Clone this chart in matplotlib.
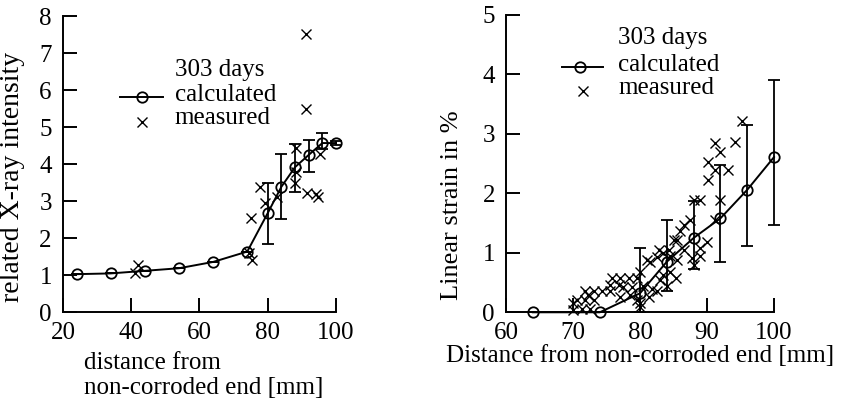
import matplotlib
matplotlib.use("Agg")
import matplotlib.pyplot as plt
from matplotlib.lines import Line2D

plt.rcParams['font.family'] = ['Liberation Serif', 'DejaVu Serif']
FS = 18

# ---------------- data: left panel ----------------
left_calc_x = [24, 34, 44, 54, 64, 74, 80, 84, 88, 92, 96, 100]
left_calc_y = [1.03, 1.05, 1.12, 1.19, 1.36, 1.64, 2.68, 3.39, 3.92, 4.25, 4.57, 4.57]
left_err_lo = [0, 0, 0, 0, 0, 0, 0.84, 0.87, 0.66, 0.45, 0.15, 0.06]
left_err_hi = [0, 0, 0, 0, 0, 0, 0.82, 0.89, 0.63, 0.41, 0.28, 0.06]
left_meas_x = [41.0, 42.0, 74.5, 75.3, 75.2, 77.8, 79.3, 82.6, 88.0, 88.2, 88.3,
               91.3, 91.3, 91.4, 94.2, 94.8, 95.3]
left_meas_y = [1.07, 1.27, 1.60, 1.42, 2.55, 3.38, 2.95, 3.10, 3.50, 3.78, 4.45,
               7.52, 5.50, 3.23, 3.20, 3.12, 4.28]
left_xticks = [20, 40, 60, 80, 100]
left_yticks = [0, 1, 2, 3, 4, 5, 6, 7, 8]

# ---------------- data: right panel ----------------
right_calc_x = [64, 74, 80, 84, 88, 92, 96, 100]
right_calc_y = [0, 0, 0.32, 0.85, 1.25, 1.58, 2.06, 2.61]
right_err_lo = [0, 0, 0.32, 0.49, 0.52, 0.73, 0.94, 1.14]
right_err_hi = [0, 0, 0.76, 0.70, 0.62, 0.89, 1.09, 1.30]
right_meas = [
    (70.0, 0.04), (70.0, 0.15), (71.3, 0.05), (72.6, 0.05), (70.6, 0.21), (71.8, 0.21),
    (73.1, 0.21), (71.8, 0.35), (73.1, 0.35), (74.3, 0.35), (75.5, 0.35), (72.3, 0.29),
    (75.5, 0.46), (76.8, 0.46), (75.8, 0.57), (77.0, 0.57), (78.3, 0.57), (79.5, 0.57),
    (77.5, 0.43), (78.8, 0.43), (78.5, 0.29), (77.0, 0.26), (79.5, 0.20), (80.5, 0.45),
    (80.0, 0.68), (80.0, 0.09), (80.0, 0.15), (81.3, 0.26), (81.8, 0.40), (81.5, 0.85),
    (82.5, 0.93), (82.5, 0.35), (82.8, 1.05), (84.3, 1.05), (83.5, 0.63), (84.5, 0.68),
    (85.3, 0.57), (85.5, 1.22), (81.0, 0.88), (83.5, 1.00), (84.5, 0.94), (85.5, 0.88),
    (86.5, 1.05), (85.0, 1.22), (86.0, 1.36), (86.5, 1.47), (87.5, 1.55), (88.0, 1.89),
    (89.0, 1.89), (87.7, 0.91), (88.0, 0.80), (89.0, 0.94), (89.0, 1.08), (90.0, 1.19),
    (90.2, 2.22), (90.2, 2.53), (91.2, 2.39), (91.2, 2.84), (92.0, 2.70), (93.2, 2.39),
    (92.0, 1.89), (91.2, 1.55), (94.2, 2.87), (95.2, 3.21), (84.0, 0.45), (83.0, 0.55),
]
right_meas_x = [p[0] for p in right_meas]
right_meas_y = [p[1] for p in right_meas]
right_xticks = [60, 70, 80, 90, 100]
right_yticks = [0, 1, 2, 3, 4, 5]

fig = plt.figure(figsize=(8.5, 4.01), dpi=100)
axL = fig.add_axes([0.0741, 0.2212, 0.3212, 0.7388])
axR = fig.add_axes([0.5953, 0.2212, 0.3153, 0.7414])

LW = 1.4
for ax in (axL, axR):
    ax.spines['top'].set_visible(False)
    ax.spines['right'].set_visible(False)
    for s in ('left', 'bottom'):
        ax.spines[s].set_linewidth(LW)
    ax.tick_params(direction='in', length=10, width=LW, labelsize=FS, pad=8)
    ax.tick_params(axis='x', pad=7)

# left panel
axL.errorbar(left_calc_x, left_calc_y, yerr=[left_err_lo, left_err_hi], fmt='-o',
             color='black', mfc='none', mec='black', ms=7.5, mew=1.3, lw=LW,
             elinewidth=1.3, capsize=4, capthick=1.3, clip_on=False, zorder=3)
axL.plot(left_meas_x, left_meas_y, 'x', color='black', ms=7.5, mew=1.0, clip_on=False,
         zorder=4)
axL.set_xlim(20, 100)
axL.set_ylim(0, 8)
axL.set_xticks(left_xticks)
axL.set_yticks(left_yticks)
axL.set_ylabel("related X-ray intensity", fontsize=FS + 2)
axL.yaxis.set_label_coords(-0.14, 0.458)
axL.set_xlabel("distance from\nnon-corroded end [mm]", fontsize=FS,
               multialignment='left', linespacing=1.15)
axL.xaxis.set_label_coords(0.515, -0.135)

# legend left (drawn manually)
tL = axL.transAxes
axL.add_line(Line2D([0.209, 0.366], [0.728, 0.728], transform=tL, color='black', lw=LW))
axL.add_line(Line2D([0.289], [0.728], transform=tL, marker='o', mfc='none', mec='black',
                    ms=7.5, mew=1.3, ls='none'))
axL.add_line(Line2D([0.289], [0.642], transform=tL, marker='x', color='black', ms=7,
                    mew=1.0, ls='none'))
axL.text(0.41, 0.818, "303 days", transform=tL, fontsize=FS, va='center', ha='left')
axL.text(0.41, 0.733, "calculated", transform=tL, fontsize=FS, va='center', ha='left')
axL.text(0.41, 0.655, "measured", transform=tL, fontsize=FS, va='center', ha='left')

# right panel
axR.errorbar(right_calc_x, right_calc_y, yerr=[right_err_lo, right_err_hi], fmt='-o',
             color='black', mfc='none', mec='black', ms=7.5, mew=1.3, lw=LW,
             elinewidth=1.3, capsize=4, capthick=1.3, clip_on=False, zorder=3)
axR.plot(right_meas_x, right_meas_y, 'x', color='black', ms=7.5, mew=1.0, clip_on=False,
         zorder=4)
axR.set_xlim(60, 100)
axR.set_ylim(0, 5)
axR.set_xticks(right_xticks)
axR.set_yticks(right_yticks)
axR.set_ylabel("Linear strain in %", fontsize=FS + 1)
axR.yaxis.set_label_coords(-0.16, 0.36)
axR.set_xlabel("Distance from non-corroded end [mm]", fontsize=FS)
axR.xaxis.set_label_coords(0.502, -0.11)

tR = axR.transAxes
axR.add_line(Line2D([0.209, 0.362], [0.825, 0.825], transform=tR, color='black', lw=LW))
axR.add_line(Line2D([0.276], [0.825], transform=tR, marker='o', mfc='none', mec='black',
                    ms=7.5, mew=1.3, ls='none'))
axR.add_line(Line2D([0.287], [0.745], transform=tR, marker='x', color='black', ms=7,
                    mew=1.0, ls='none'))
axR.text(0.418, 0.923, "303 days", transform=tR, fontsize=FS, va='center', ha='left')
axR.text(0.418, 0.832, "calculated", transform=tR, fontsize=FS, va='center', ha='left')
axR.text(0.418, 0.754, "measured", transform=tR, fontsize=FS, va='center', ha='left')

fig.savefig("out.png", dpi=100)
